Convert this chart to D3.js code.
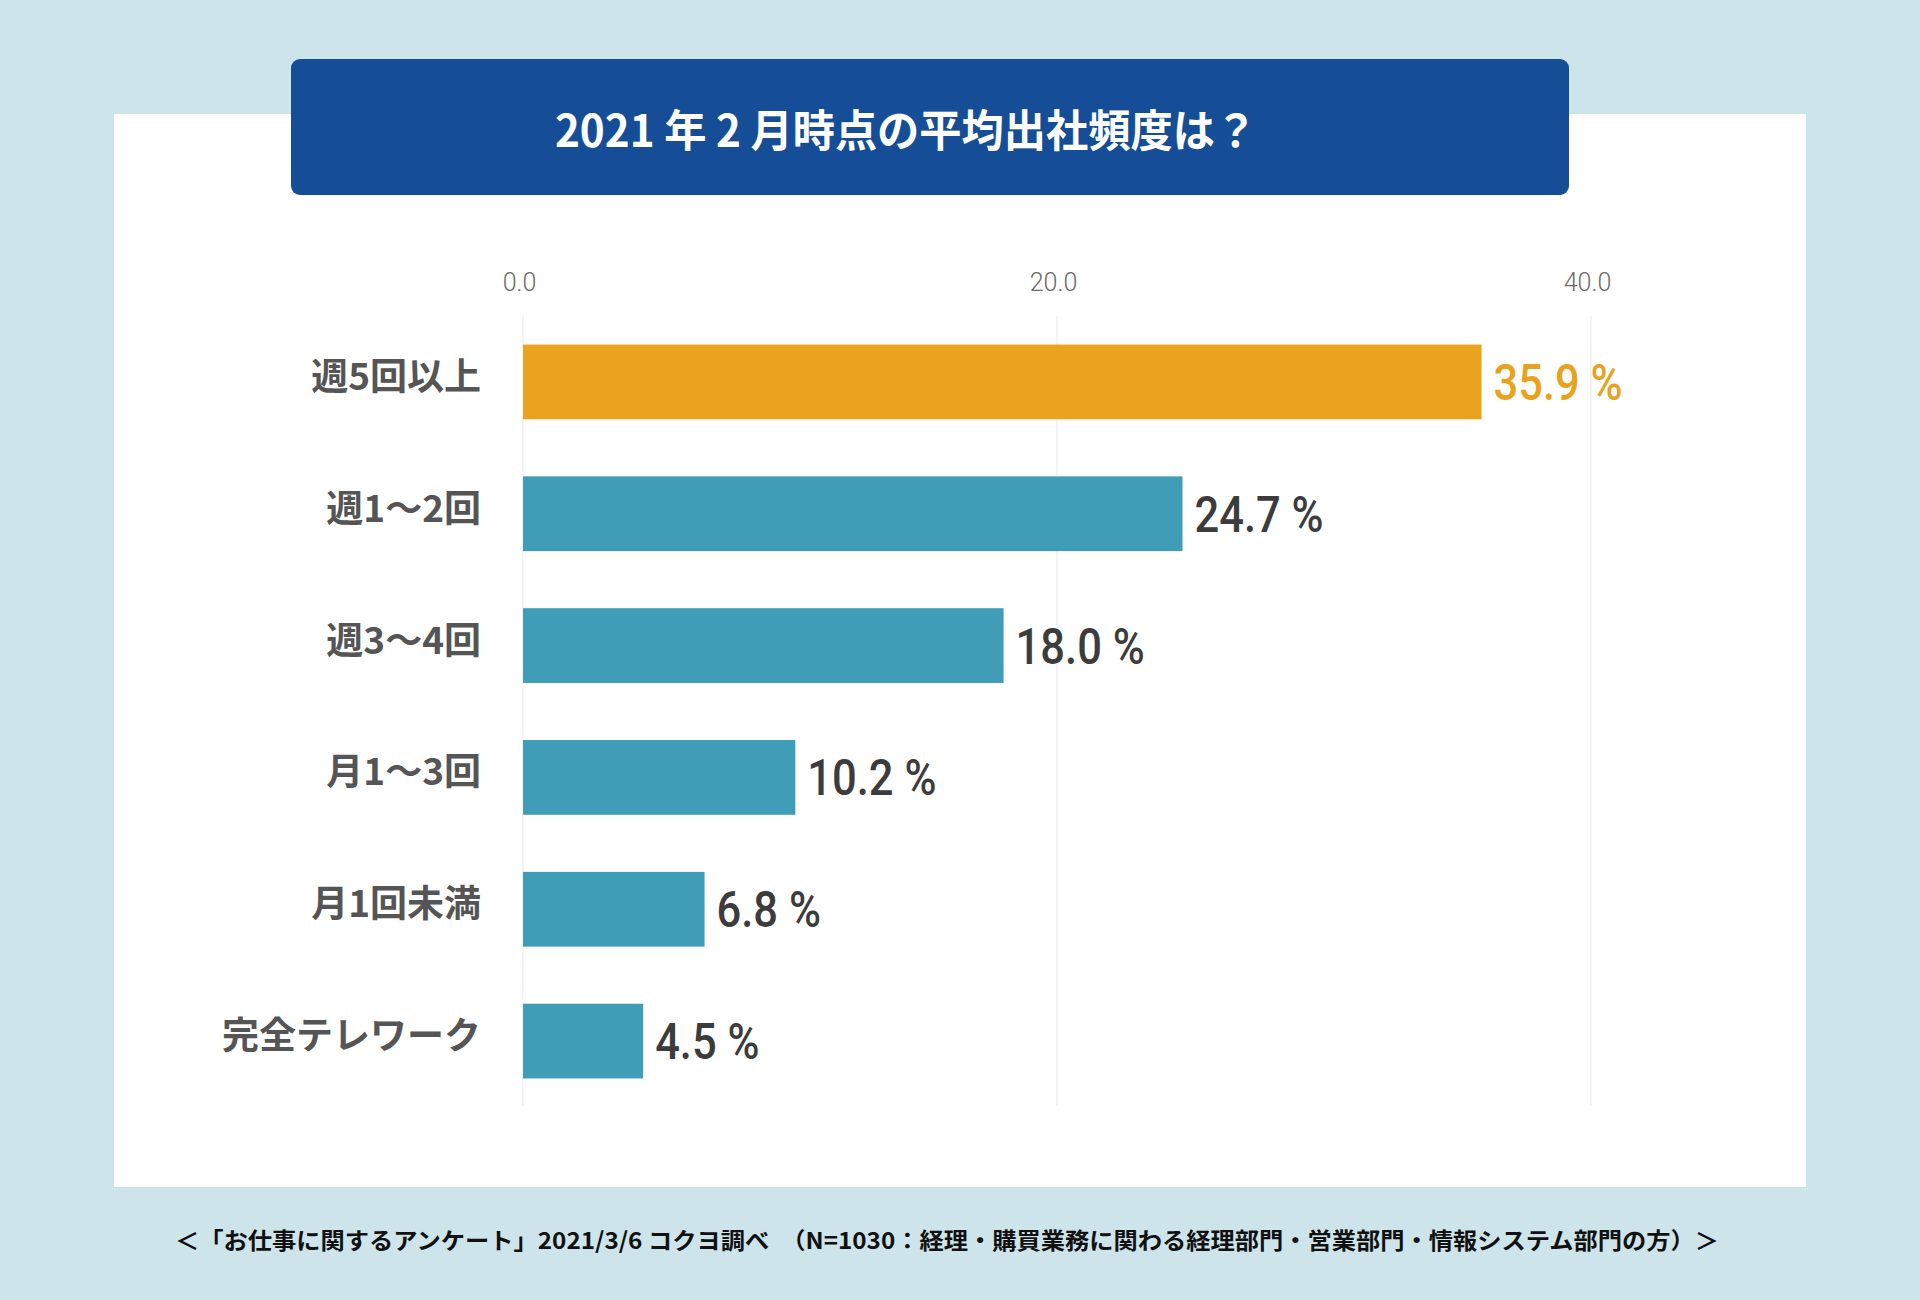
<!DOCTYPE html>
<html><head><meta charset="utf-8">
<script src="https://cdn.jsdelivr.net/npm/d3@7"></script>
<style>
html,body{margin:0;padding:0;background:#cde4eb;}
svg{display:block;}
</style></head>
<body>
<svg id="chart" width="1920" height="1300"></svg>
<script>
const categories = ["週5回以上","週1〜2回","週3〜4回","月1〜3回","月1回未満","完全テレワーク"];
const values = [35.9, 24.7, 18.0, 10.2, 6.8, 4.5];
const tickValues = [0, 20, 40];
const title = "2021 年 2 月時点の平均出社頻度は？";
const footnote = "＜「お仕事に関するアンケート」2021/3/6 コクヨ調べ　（N=1030：経理・購買業務に関わる経理部門・営業部門・情報システム部門の方）＞";

const svg = d3.select("#chart");
const cjk = "'Noto Sans CJK JP','Noto Sans',sans-serif";
const num = "Roboto,'Noto Sans',sans-serif";

svg.append("rect").attr("x",0).attr("y",0).attr("width",1920).attr("height",1300).attr("fill","#cde4eb");
svg.append("rect").attr("x",114).attr("y",114).attr("width",1692).attr("height",1073).attr("fill","#ffffff");

// title box
svg.append("rect").attr("x",291).attr("y",59).attr("width",1278).attr("height",136).attr("rx",9).attr("fill","#154d97");
svg.append("text").attr("transform","translate(906,128) scale(0.96,1)").attr("text-anchor","middle").attr("dominant-baseline","central")
  .attr("font-family",cjk).attr("font-weight",700).attr("font-size",44).attr("fill","#ffffff").text(title);

const x = d3.scaleLinear().domain([0,40]).range([523,1591]);
const y = d3.scaleBand().domain(categories).range([316,1107]).paddingInner(0.433).paddingOuter(0.2165);

// gridlines
svg.append("g").selectAll("line").data(tickValues).join("line")
  .attr("x1",d=>x(d)).attr("x2",d=>x(d)).attr("y1",316).attr("y2",1106)
  .attr("stroke","#ececec").attr("stroke-width",1.2);

// top axis tick labels
const axis = svg.append("g").attr("transform","translate(0,282)")
  .call(d3.axisTop(x).tickValues(tickValues).tickSize(0).tickFormat(d3.format(".1f")));
axis.select(".domain").remove();
axis.selectAll("text").attr("font-family",num).attr("font-weight",300).attr("font-size",25)
  .attr("fill","#6a6a6a").attr("dy","0.35em").attr("y",0).attr("x",-4);

// bars
svg.append("g").selectAll("rect").data(values).join("rect")
  .attr("x",x(0)).attr("y",(d,i)=>y(categories[i]))
  .attr("width",d=>x(d)-x(0)).attr("height",y.bandwidth())
  .attr("fill",(d,i)=>i===0?"#e9a31f":"#3f9db8");

// value labels
svg.append("g").selectAll("text").data(values).join("text")
  .attr("transform",(d,i)=>`translate(${x(d)+12},${y(categories[i])+y.bandwidth()/2+1}) scale(0.87,1)`)
  .attr("dominant-baseline","central")
  .attr("font-family",num).attr("font-weight",500).attr("font-size",50)
  .attr("fill",(d,i)=>i===0?"#e9a21e":"#3c3c3c")
  .text(d=>d3.format(".1f")(d)+" %");

// category labels
svg.append("g").selectAll("text").data(categories).join("text")
  .attr("x",481).attr("y",d=>y(d)+y.bandwidth()/2-8)
  .attr("text-anchor","end").attr("dominant-baseline","central")
  .attr("font-family",cjk).attr("font-weight",700).attr("font-size",37).attr("fill","#555555")
  .text(d=>d);

// footnote
svg.append("text").attr("x",175).attr("y",1239).attr("dominant-baseline","central")
  .attr("font-family",cjk).attr("font-weight",700).attr("font-size",23).attr("fill","#111111")
  .attr("textLength",1544).attr("lengthAdjust","spacingAndGlyphs").text(footnote);
</script>
</body></html>
